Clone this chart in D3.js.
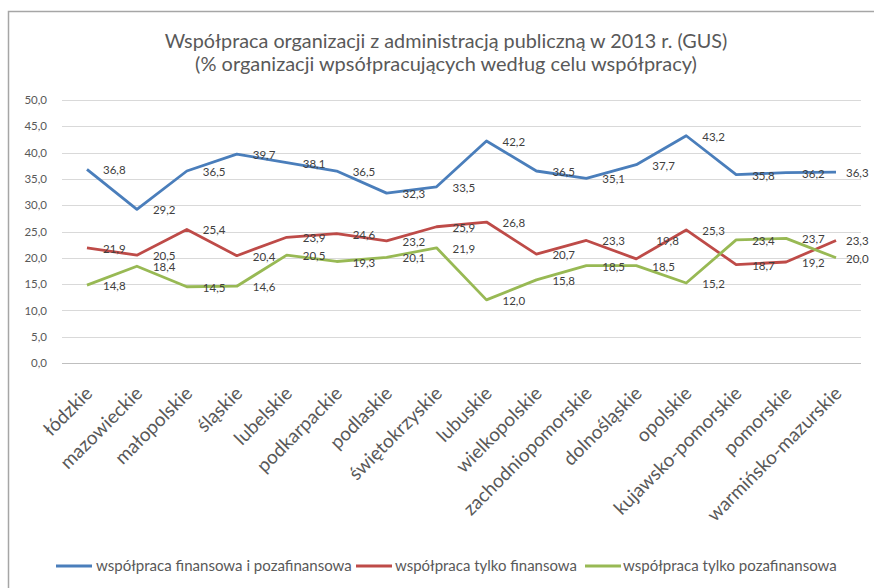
<!DOCTYPE html>
<html><head><meta charset="utf-8">
<script src="https://cdn.jsdelivr.net/npm/d3@7"></script>
<style>body{margin:0;background:#fff}svg{display:block}text{font-family:Lato,"Open Sans",sans-serif}</style>
</head><body>
<svg id="c" width="874" height="588"></svg>
<script>
const categories = ["łódzkie","mazowieckie","małopolskie","śląskie","lubelskie","podkarpackie","podlaskie","świętokrzyskie","lubuskie","wielkopolskie","zachodniopomorskie","dolnośląskie","opolskie","kujawsko-pomorskie","pomorskie","warmińsko-mazurskie"];
const seriesNames = ["współpraca finansowa i pozafinansowa","współpraca tylko finansowa","współpraca tylko pozafinansowa"];
const valuesBoth = [36.8,29.2,36.5,39.7,38.1,36.5,32.3,33.5,42.2,36.5,35.1,37.7,43.2,35.8,36.2,36.3];
const valuesFin = [21.9,20.5,25.4,20.4,23.9,24.6,23.2,25.9,26.8,20.7,23.3,19.8,25.3,18.7,19.2,23.3];
const valuesNonFin = [14.8,18.4,14.5,14.6,20.5,19.3,20.1,21.9,12.0,15.8,18.5,18.5,15.2,23.4,23.7,20.0];
const yTicks = [0,5,10,15,20,25,30,35,40,45,50];
const titleLines = ["Współpraca organizacji z administracją publiczną w 2013 r. (GUS)","(% organizacji wpsółpracujących według celu współpracy)"];
const colors = ["#4A7EBB","#BE4B48","#98B954"];
const series = [valuesBoth, valuesFin, valuesNonFin];

const svg = d3.select("#c");
const W = 874, H = 588;
svg.append("rect").attr("x",8.5).attr("y",11.5).attr("width",W).attr("height",H).attr("fill","#fff").attr("stroke","#a6a6a6").attr("stroke-width",1.5);

const x = d3.scaleBand().domain(categories).range([62, 861]);
const y = d3.scaleLinear().domain([0,50]).range([363, 100]);
const fmt = v => d3.format(".1f")(v).replace(".", ",");

function fit(sel, target){
  const n = sel.node(); const fs = parseFloat(sel.attr("font-size"));
  const w = n.getComputedTextLength(); sel.attr("font-size", fs*target/w);
}

// title
const t1 = svg.append("text").attr("x",446).attr("y",48).attr("text-anchor","middle").attr("font-size",17).attr("fill","#595959").text(titleLines[0]);
fit(t1, 563);
const t2 = svg.append("text").attr("x",446).attr("y",71).attr("text-anchor","middle").attr("font-size",17).attr("fill","#595959").text(titleLines[1]);
fit(t2, 502);

// grid
svg.append("g").selectAll("line").data(yTicks).join("line")
  .attr("x1",62).attr("x2",861).attr("y1",d=>Math.round(y(d))+0.5).attr("y2",d=>Math.round(y(d))+0.5)
  .attr("stroke",d=>d===0?"#bfbfbf":"#d9d9d9").attr("stroke-width",1);

// y axis
const yAxis = d3.axisLeft(y).tickValues(yTicks).tickFormat(fmt).tickSize(0).tickPadding(0);
const gy = svg.append("g").attr("transform","translate(47,0)").call(yAxis);
gy.select(".domain").remove();
gy.selectAll("text").attr("font-size",11.5).attr("fill","#595959").attr("font-family","Lato, sans-serif");

// x axis
const xAxis = d3.axisBottom(x).tickSize(0).tickPadding(0);
const gx = svg.append("g").attr("transform","translate(0,390)").call(xAxis);
gx.select(".domain").remove();
gx.selectAll("text").attr("font-size",19).attr("fill","#595959").attr("font-family","Lato, sans-serif")
  .attr("text-anchor","end").attr("dy","0.35em").attr("transform","translate(2,0) rotate(-45)");

// lines
const line = d3.line().x((d,i)=>x(categories[i])+x.bandwidth()/2).y(d=>y(d));
series.forEach((s,k)=>{
  svg.append("path").datum(s).attr("d",line).attr("fill","none").attr("stroke",colors[k]).attr("stroke-width",2.8).attr("stroke-linejoin","round");
});
// labels (one label manually nudged in the original: finansowa / dolnośląskie)
const nudge = {"1-11": [4,-19]};
series.forEach((s,k)=>{
  svg.append("g").selectAll("text").data(s).join("text")
    .attr("x",(d,i)=>Math.min(x(categories[i])+x.bandwidth()/2+16, 846) + (nudge[k+"-"+i]?nudge[k+"-"+i][0]:0))
    .attr("y",(d,i)=>y(d)+1 + (nudge[k+"-"+i]?nudge[k+"-"+i][1]:0)).attr("dy","0.35em")
    .attr("font-size",11.5).attr("fill","#404040").text(fmt);
});

// legend
const leg = [[56,92,96,256],[356,392,395,182],[585,621,623,214]];
leg.forEach((L,k)=>{
  svg.append("line").attr("x1",L[0]).attr("x2",L[1]).attr("y1",566).attr("y2",566).attr("stroke",colors[k]).attr("stroke-width",2.8);
  const t = svg.append("text").attr("x",L[2]).attr("y",566).attr("dy","0.35em").attr("font-size",11).attr("fill","#595959").text(seriesNames[k]);
  fit(t, L[3]);
});
</script>
</body></html>
